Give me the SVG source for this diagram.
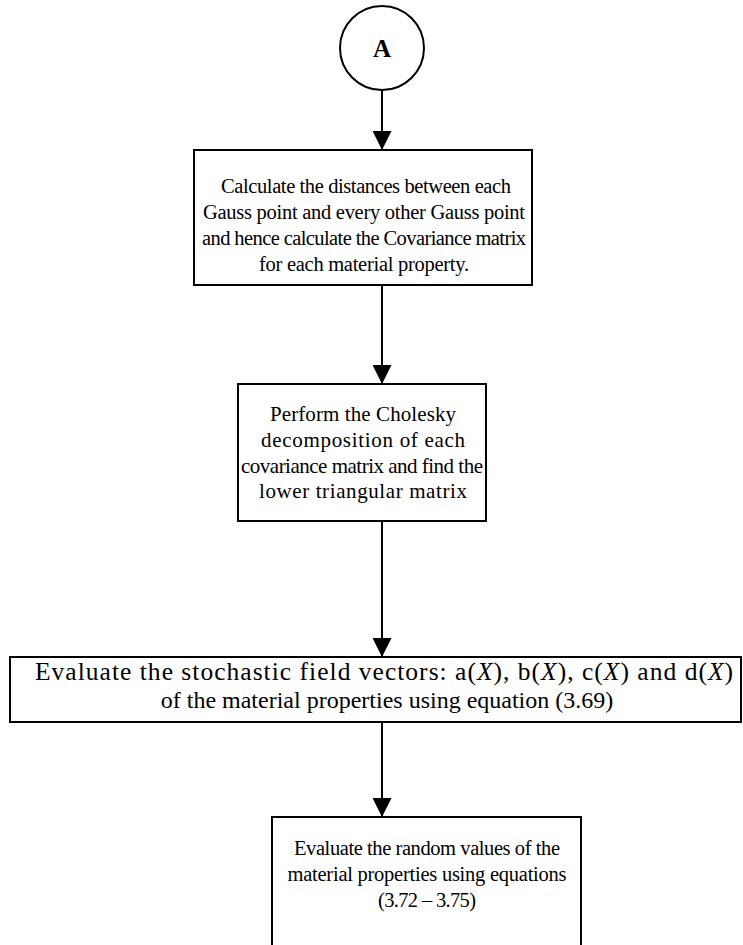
<svg xmlns="http://www.w3.org/2000/svg" width="743" height="945" viewBox="0 0 743 945">
  <style>
    .box { fill: #ffffff; stroke: #000000; stroke-width: 2; }
    .edge { stroke: #000000; stroke-width: 2; fill: none; }
    .t { font-family: "Liberation Serif", "Times New Roman", serif; font-size: 20.5px; fill: #000000; text-anchor: middle; }
    .t2 { font-family: "Liberation Serif", "Times New Roman", serif; font-size: 21px; fill: #000000; text-anchor: middle; }
    .t3 { font-family: "Liberation Serif", "Times New Roman", serif; font-size: 24px; fill: #000000; text-anchor: middle; }
    .t3a { font-family: "Liberation Serif", "Times New Roman", serif; font-size: 25.5px; fill: #000000; text-anchor: middle; }
    .lbl { font-family: "Liberation Serif", "Times New Roman", serif; font-size: 25px; font-weight: bold; fill: #000000; text-anchor: middle; }
  </style>
  <defs>
    <marker id="arrow" viewBox="0 0 20 20" refX="20" refY="10" markerWidth="19" markerHeight="19" markerUnits="userSpaceOnUse" orient="auto">
      <path d="M0,0 L20,10 L0,20 Z" fill="#000000"/>
    </marker>
  </defs>
  <rect width="743" height="945" fill="#ffffff"/>

  <!-- flow arrows, all on the same vertical axis -->
  <g id="connectors">
    <line class="edge" x1="382" y1="91" x2="382" y2="150" marker-end="url(#arrow)"/>
    <line class="edge" x1="382" y1="285" x2="382" y2="384" marker-end="url(#arrow)"/>
    <line class="edge" x1="382" y1="521" x2="382" y2="657" marker-end="url(#arrow)"/>
    <line class="edge" x1="382" y1="722" x2="382" y2="817" marker-end="url(#arrow)"/>
  </g>

  <g id="node-A">
    <circle cx="382" cy="48" r="42" fill="#ffffff" stroke="#000000" stroke-width="2"/>
    <text class="lbl" x="382" y="57">A</text>
  </g>

  <g id="node-distances">
    <rect class="box" x="194" y="150" width="338" height="135"/>
    <text class="t" x="366" y="193" textLength="290" lengthAdjust="spacing">Calculate the distances between each</text>
    <text class="t" x="364" y="219" textLength="322" lengthAdjust="spacing">Gauss point and every other Gauss point</text>
    <text class="t" x="364" y="245" textLength="324" lengthAdjust="spacing">and hence calculate the Covariance matrix</text>
    <text class="t" x="364" y="271" textLength="210" lengthAdjust="spacing">for each material property.</text>
  </g>

  <g id="node-cholesky">
    <rect class="box" x="238" y="384" width="248" height="137"/>
    <text class="t2" x="363" y="421" textLength="186" lengthAdjust="spacing">Perform the Cholesky</text>
    <text class="t2" x="363" y="447" textLength="204" lengthAdjust="spacing">decomposition of each</text>
    <text class="t2" x="362" y="473" textLength="242" lengthAdjust="spacing">covariance matrix and find the</text>
    <text class="t2" x="363" y="498" textLength="208" lengthAdjust="spacing">lower triangular matrix</text>
  </g>

  <g id="node-vectors">
    <rect class="box" x="10" y="657" width="731" height="65"/>
    <text class="t3a" x="384" y="680" textLength="698" lengthAdjust="spacing">Evaluate the stochastic field vectors: a(<tspan font-style="italic">X</tspan>), b(<tspan font-style="italic">X</tspan>), c(<tspan font-style="italic">X</tspan>) and d(<tspan font-style="italic">X</tspan>)</text>
    <text class="t3" x="387" y="708">of the material properties using equation (3.69)</text>
  </g>

  <g id="node-random">
    <rect class="box" x="272" y="817" width="309" height="140"/>
    <text class="t" x="427" y="855" textLength="266" lengthAdjust="spacing">Evaluate the random values of the</text>
    <text class="t" x="427" y="881" textLength="279" lengthAdjust="spacing">material properties using equations</text>
    <text class="t" x="427" y="907" textLength="98" lengthAdjust="spacing">(3.72 – 3.75)</text>
  </g>
</svg>
